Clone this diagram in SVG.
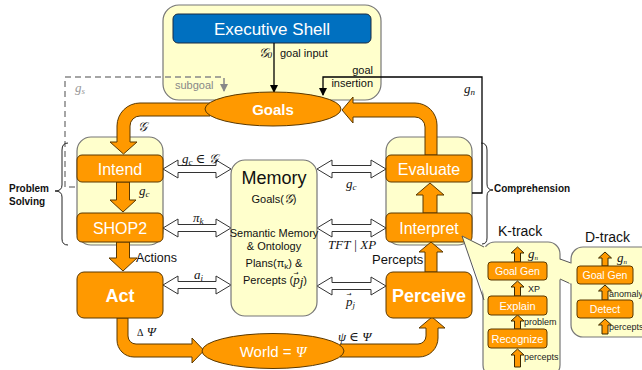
<svg xmlns="http://www.w3.org/2000/svg" width="642" height="370" viewBox="0 0 642 370">
<defs>
<marker id="ah" markerWidth="8" markerHeight="8" refX="7" refY="4" orient="auto" markerUnits="userSpaceOnUse"><path d="M0,0 L8,4 L0,8 Z" fill="#000"/></marker>
<marker id="ahg" markerWidth="8" markerHeight="8" refX="7" refY="4" orient="auto" markerUnits="userSpaceOnUse"><path d="M0,0 L8,4 L0,8 Z" fill="#888"/></marker>
<style>
.cont{fill:#FFFFCC;stroke:#777;stroke-width:1.2}
.org{fill:#FF9900;stroke:#5a3800;stroke-width:1}
.blk{fill:#FF9900;stroke:#3a2800;stroke-width:1}
.dbl{fill:#fff;stroke:#333;stroke-width:1}
.t{font-family:"Liberation Sans",Arial,sans-serif}
.w{fill:#fff;text-anchor:middle}
.m{font-family:"Liberation Serif","DejaVu Serif",serif;font-style:italic;font-size:13px;fill:#111}
.lbl{font-family:"Liberation Sans",Arial,sans-serif;font-size:11px;fill:#111}
.s{font-family:"Liberation Sans",Arial,sans-serif;font-size:9px;fill:#222}
.b{font-family:"Liberation Sans",Arial,sans-serif;font-size:10px;font-weight:bold;fill:#111}
.vec{font-family:"DejaVu Sans",sans-serif;font-size:6px;fill:#111}
.brace{fill:none;stroke:#222;stroke-width:1}
</style>
</defs>

<!-- Executive shell -->
<g id="executive">
<rect class="cont" x="163" y="5" width="218" height="95" rx="16" stroke="#999"/>
<rect x="173" y="14" width="198" height="29" rx="5" fill="#0070C0" stroke="#1a2a40" stroke-width="1"/>
<text class="t w" x="272" y="35" font-size="17">Executive Shell</text>
</g>

<g id="problem-solving">
<rect class="cont" x="77" y="137" width="86" height="108" rx="14"/>
</g>
<g id="comprehension">
<rect class="cont" x="386" y="137" width="86" height="108" rx="14"/>
</g>

<!-- connectors -->
<g id="connectors">
<line x1="274" y1="43" x2="274" y2="92" stroke="#000" stroke-width="1.3" marker-end="url(#ah)"/>
<polyline points="472,193 482,193 482,77 323,77 323,95" fill="none" stroke="#000" stroke-width="1.3" marker-end="url(#ah)"/>
<polyline points="75,187 65,187 65,77 224,77 224,91" fill="none" stroke="#888" stroke-width="1.5" stroke-dasharray="6,4" marker-end="url(#ahg)"/>
<path class="org" d="M425,155 L425,127 A10,10 0 0 0 415,117 L353,117 L353,123 L342,110 L353,97 L353,103 L415,103 A22,22 0 0 1 437,125 L437,155 Z"/>
<path class="org" d="M210,103 L140,103 A23,23 0 0 0 117,126 L117,142 L110,142 L123.5,154 L137,142 L130,142 L130,126 A10,10 0 0 1 140,116 L210,116 Z"/>
<path class="org" d="M117,318 L117,340 A17,17 0 0 0 134,357 L192,357 L192,363 L204,350.5 L192,338 L192,344 L136,344 A8,8 0 0 1 128,336 L128,318 Z"/>
<path class="org" d="M340,344 L418,344 A8,8 0 0 0 426,336 L426,328 L419,328 L432,317 L445,328 L438,328 L438,338 A19,19 0 0 1 419,357 L340,357 Z"/>
<path class="org" d="M116.5,182 L116.5,200 L110,200 L123,212 L136,200 L129.5,200 L129.5,182 Z"/>
<path class="org" d="M116.5,242 L116.5,258 L109,258 L123,271 L137,258 L129.5,258 L129.5,242 Z"/>
<path class="org" d="M423,213 L423,195 L416,195 L430,183 L444,195 L437,195 L437,213 Z"/>
<path class="org" d="M425,272 L425,252 L419,252 L431,242 L443,252 L437,252 L437,272 Z"/>
<path class="dbl" d="M163,169 L178,160 L178,165.5 L216,165.5 L216,160 L231,169 L216,178 L216,172.5 L178,172.5 L178,178 Z"/>
<path class="dbl" d="M163,228 L178,219 L178,224.5 L216,224.5 L216,219 L231,228 L216,237 L216,231.5 L178,231.5 L178,237 Z"/>
<path class="dbl" d="M163,285 L178,276 L178,281.5 L216,281.5 L216,276 L231,285 L216,294 L216,288.5 L178,288.5 L178,294 Z"/>
<path class="dbl" d="M317,169 L332,160 L332,165.5 L371,165.5 L371,160 L386,169 L371,178 L371,172.5 L332,172.5 L332,178 Z"/>
<path class="dbl" d="M317,228 L332,219 L332,224.5 L371,224.5 L371,219 L386,228 L371,237 L371,231.5 L332,231.5 L332,237 Z"/>
<path class="dbl" d="M317,286 L332,277 L332,282.5 L371,282.5 L371,277 L386,286 L371,295 L371,289.5 L332,289.5 L332,295 Z"/>
</g>

<g id="goals">
<ellipse class="org" cx="273" cy="109" rx="68" ry="17"/>
<text class="t w" x="273" y="114.5" font-size="15" font-weight="bold">Goals</text>
</g>

<g id="world">
<ellipse class="org" cx="273" cy="351" rx="71" ry="17.5"/>
<text class="t w" x="273" y="357" font-size="15">World = <tspan font-family="Liberation Serif,serif" font-style="italic">Ψ</tspan></text>
</g>

<g id="intend">
<rect class="org" x="77" y="155" width="86" height="27" rx="5"/>
<text class="t w" x="120" y="174.5" font-size="16">Intend</text>
</g>
<g id="shop2">
<rect class="org" x="77" y="213" width="86" height="29" rx="5"/>
<text class="t w" x="120" y="233.5" font-size="16">SHOP2</text>
</g>
<g id="act">
<rect class="org" x="77" y="272" width="86" height="46" rx="7"/>
<text class="t w" x="120" y="301.5" font-size="18" font-weight="bold">Act</text>
</g>
<g id="evaluate">
<rect class="org" x="386" y="155" width="86" height="27" rx="5"/>
<text class="t w" x="429" y="174.5" font-size="16">Evaluate</text>
</g>
<g id="interpret">
<rect class="org" x="386" y="213" width="86" height="29" rx="5"/>
<text class="t w" x="429" y="233.5" font-size="16">Interpret</text>
</g>
<g id="perceive">
<rect class="org" x="386" y="272" width="86" height="46" rx="7"/>
<text class="t w" x="429" y="301.5" font-size="18" font-weight="bold">Perceive</text>
</g>

<g id="memory">
<rect class="cont" x="231" y="160" width="86" height="156" rx="14" stroke="#555"/>
<text class="t" x="274" y="184" font-size="18" text-anchor="middle" fill="#111">Memory</text>
<text class="t" x="274" y="203" font-size="11" text-anchor="middle" fill="#111">Goals(<tspan class="m" font-size="12">𝒢</tspan>)</text>
<text class="t" x="274" y="237" font-size="11" text-anchor="middle" fill="#111">Semantic Memory</text>
<text class="t" x="274" y="250" font-size="11" text-anchor="middle" fill="#111">&amp; Ontology</text>
<text class="t" x="274" y="267" font-size="11" text-anchor="middle" fill="#111">Plans(π<tspan font-size="8" dy="2">k</tspan><tspan dy="-2">) &amp;</tspan></text>
<text class="t" x="243" y="284" font-size="11" fill="#111">Percepts (<tspan class="m" font-size="12">p</tspan><tspan class="m" font-size="8" dy="2">j</tspan><tspan dy="-2">)</tspan></text>
<text class="vec" x="293.5" y="275">→</text>
</g>

<g id="k-track">
<rect class="cont" x="483" y="242" width="77" height="135" rx="12" stroke="#555"/>
<polygon points="462,236 486,247 486,300" fill="#FFFFCC"/>
<polyline points="484,247 462,236 484,300" fill="none" stroke="#555" stroke-width="1"/>
<text class="t" x="498" y="236" font-size="14" fill="#111">K-track</text>
<path class="blk" d="M514.5,262 L514.5,253 L511,253 L517.5,247 L524,253 L520.5,253 L520.5,262 Z"/>
<path class="blk" d="M514.5,296 L514.5,287 L511,287 L517.5,281 L524,287 L520.5,287 L520.5,296 Z"/>
<path class="blk" d="M514.5,329 L514.5,321 L511,321 L517.5,315 L524,321 L520.5,321 L520.5,329 Z"/>
<path class="blk" d="M514.5,367 L514.5,355 L511,355 L517.5,349 L524,355 L520.5,355 L520.5,367 Z"/>
<rect class="org" x="488" y="262" width="59" height="18" rx="3"/>
<text class="t w" x="517.5" y="275" font-size="10.5">Goal Gen</text>
<rect class="org" x="488" y="296" width="59" height="19" rx="3"/>
<text class="t w" x="517.5" y="309.5" font-size="11">Explain</text>
<rect class="org" x="488" y="329" width="59" height="19" rx="3"/>
<text class="t w" x="517.5" y="342.5" font-size="11">Recognize</text>
<text class="m" x="528" y="258" font-size="10">g<tspan font-size="7" dy="2">n</tspan></text>
<text class="s" x="528" y="292">XP</text>
<text class="s" x="524" y="325">problem</text>
<text class="s" x="524" y="360">percepts</text>
</g>

<g id="d-track">
<polygon points="558,259 573,263 573,284 558,279" fill="#FFFFCC"/>
<line x1="560" y1="259" x2="571" y2="263" stroke="#555"/>
<line x1="560" y1="279" x2="571" y2="284" stroke="#555"/>
<rect class="cont" x="571" y="247" width="85" height="90" rx="12" stroke="#555"/>
<rect x="569" y="263.5" width="4" height="20" fill="#FFFFCC"/>
<text class="t" x="585" y="242" font-size="14" fill="#111">D-track</text>
<path class="blk" d="M602,266 L602,258 L598.5,258 L605,252 L611.5,258 L608,258 L608,266 Z"/>
<path class="blk" d="M602,300 L602,291 L598.5,291 L605,285 L611.5,291 L608,291 L608,300 Z"/>
<path class="blk" d="M602,334 L602,325 L598.5,325 L605,319 L611.5,325 L608,325 L608,334 Z"/>
<rect class="org" x="577" y="266" width="56" height="18" rx="3"/>
<text class="t w" x="605" y="279" font-size="10.5">Goal Gen</text>
<rect class="org" x="577" y="300" width="56" height="18" rx="3"/>
<text class="t w" x="605" y="313" font-size="10.5">Detect</text>
<text class="m" x="617" y="262" font-size="10">g<tspan font-size="7" dy="2">n</tspan></text>
<text class="s" x="609" y="297" font-size="7.5">anomaly</text>
<text class="s" x="609" y="330" font-size="7.5">percepts</text>
</g>

<g id="braces">
<path class="brace" d="M68,143 Q62,143 62,150 L62,185 Q62,191 55,191 Q62,191 62,197 L62,239 Q62,245 68,245"/>
<path class="brace" d="M481,143 Q487,143 487,150 L487,184 Q487,190 493,190 Q487,190 487,196 L487,238 Q487,244 482,244"/>
<text class="b" x="9" y="192">Problem</text>
<text class="b" x="9" y="205">Solving</text>
<text class="b" x="494" y="192">Comprehension</text>
</g>

<g id="labels">
<text class="m" x="272" y="57" text-anchor="end">𝒢<tspan font-size="9" dy="1">0</tspan></text>
<text class="lbl" x="280" y="57">goal input</text>
<text class="lbl" x="373" y="74" text-anchor="end">goal</text>
<text class="lbl" x="373" y="87" text-anchor="end">insertion</text>
<text class="m" x="464" y="93">g<tspan font-size="9" dy="2">n</tspan></text>
<text class="m" x="75" y="92" style="fill:#999">g<tspan font-size="9" dy="2">s</tspan></text>
<text class="lbl" x="175" y="89" style="fill:#888">subgoal</text>
<text class="m" x="138" y="131">𝒢</text>
<text class="m" x="139" y="195">g<tspan font-size="9" dy="2">c</tspan></text>
<text class="t" x="136" y="262" font-size="12.5" fill="#111">Actions</text>
<text class="m" x="137" y="336" font-size="12"><tspan font-style="normal" font-size="10">Δ</tspan> Ψ</text>
<text class="m" x="338" y="341">ψ ∈ Ψ</text>
<text class="t" x="372" y="264" font-size="13" fill="#111">Percepts</text>
<text class="m" x="182" y="163">g<tspan font-size="9" dy="2">c</tspan><tspan dy="-2"> ∈ 𝒢</tspan></text>
<text class="m" x="193" y="222">π<tspan font-size="9" dy="2">k</tspan></text>
<text class="m" x="194" y="279">a<tspan font-size="9" dy="2">i</tspan></text>
<text class="m" x="346" y="188">g<tspan font-size="9" dy="2">c</tspan></text>
<text class="m" x="328" y="249">TFT | XP</text>
<text class="m" x="346" y="306">p<tspan font-size="9" dy="2">j</tspan></text>
<text class="vec" x="346.5" y="296">→</text>
</g>
</svg>
